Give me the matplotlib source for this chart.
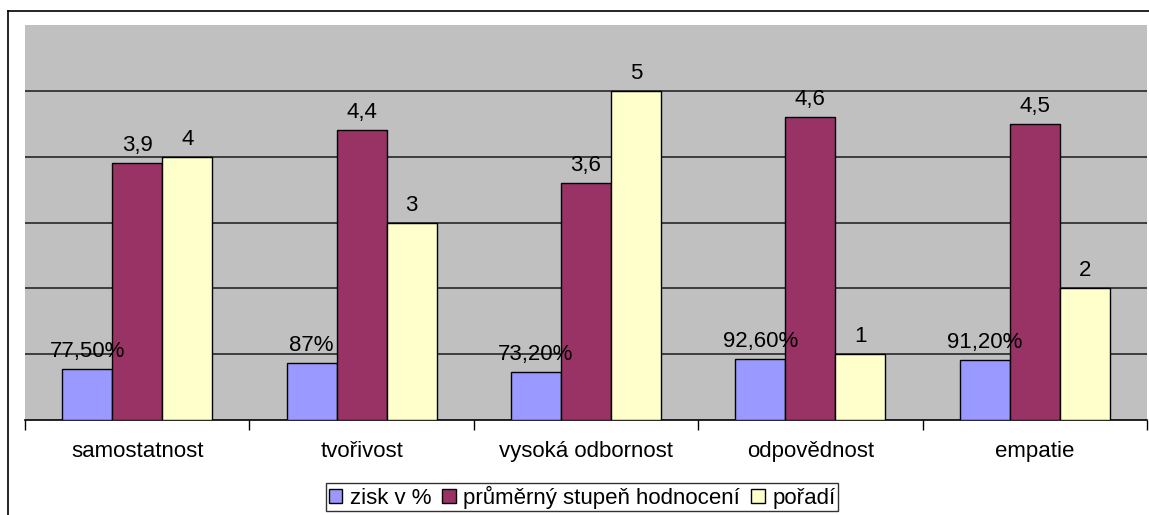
from matplotlib import pyplot as plt
from matplotlib.lines import Line2D
import numpy as np

plt.rcParams['font.family'] = ['Liberation Sans', 'DejaVu Sans']

categories = ["samostatnost", "tvořivost", "vysoká odbornost", "odpovědnost", "empatie"]
zisk = [0.775, 0.87, 0.732, 0.926, 0.912]
zisk_labels = ["77,50%", "87%", "73,20%", "92,60%", "91,20%"]
prumer = [3.9, 4.4, 3.6, 4.6, 4.5]
poradi = [4, 3, 5, 1, 2]
series_names = ["zisk v %", "průměrný stupeň hodnocení", "pořadí"]
colors = ["#9999FF", "#993366", "#FFFFCC"]

FS = 16

fig = plt.figure(figsize=(11.49, 5.15), dpi=100)
W, H = 1149, 515
ax = fig.add_axes([25 / W, 1 - 420 / H, 1122 / W, 395 / H])
ax.set_facecolor("#C0C0C0")

x = np.arange(len(categories))
width = 0.223
series = [zisk, prumer, poradi]
labels = [zisk_labels,
          [str(v).replace(".", ",") for v in prumer],
          [str(v) for v in poradi]]

for i, (vals, lbls, col, name) in enumerate(zip(series, labels, colors, series_names)):
    pos = x + (i - 1) * width
    ax.bar(pos, vals, width, color=col, edgecolor="black", linewidth=1,
           label=name, zorder=3)
    for px, v, t in zip(pos, vals, lbls):
        ax.annotate(t, (px, v), xytext=(0, 5), textcoords="offset points",
                    ha="center", va="bottom", fontsize=FS, zorder=4)

ax.set_ylim(0, 6)
ax.set_xlim(-0.5, len(categories) - 0.5)
ax.set_yticks(np.arange(1, 6))
ax.yaxis.grid(True, color="#333333", linewidth=1.3, zorder=1)
ax.tick_params(axis="y", left=False, labelleft=False)

ax.set_xticks(np.arange(-0.5, len(categories)), minor=False)
ax.set_xticklabels([])
ax.tick_params(axis="x", length=7, color="black", width=1)
ax.set_xticks(x, minor=True)
ax.set_xticklabels(categories, minor=True, fontsize=FS)
ax.tick_params(axis="x", which="minor", length=0, pad=15)

for s in ["top", "left", "right"]:
    ax.spines[s].set_visible(False)
ax.spines["bottom"].set_color("black")
ax.spines["bottom"].set_linewidth(1.2)

leg = ax.legend(loc="center", bbox_to_anchor=(582 / W, 1 - 497 / H),
                bbox_transform=fig.transFigure, ncol=3, frameon=True,
                fancybox=False, edgecolor="black", fontsize=FS,
                handlelength=0.6, handleheight=0.6, handletextpad=0.35,
                columnspacing=0.5, borderpad=0.12, borderaxespad=0)
leg.get_frame().set_linewidth(1)

# outer chart frame
fig.add_artist(Line2D([8 / W, 1], [1 - 11 / H, 1 - 11 / H], color="black", linewidth=1.2))
fig.add_artist(Line2D([8 / W, 8 / W], [0, 1 - 11 / H], color="black", linewidth=1.2))

fig.savefig("out.png", dpi=100)
